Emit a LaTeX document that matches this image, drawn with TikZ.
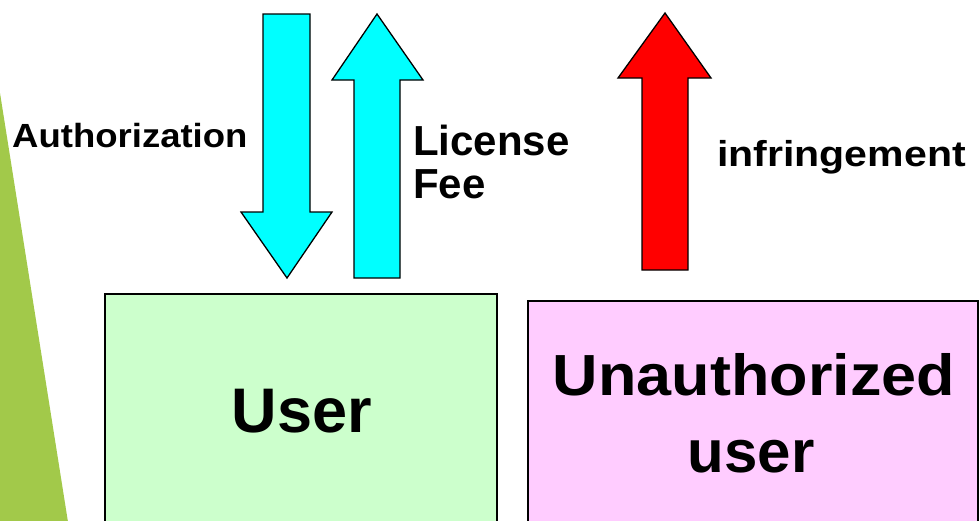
\documentclass[tikz,border=0pt]{standalone}
\usepackage{fontspec}
\setmainfont{Liberation Sans}
\definecolor{leafgreen}{HTML}{A2C94A}
\definecolor{boxgreen}{HTML}{CCFFCC}
\definecolor{boxpink}{HTML}{FFCCFF}
\definecolor{arrowcyan}{HTML}{00FFFF}
\definecolor{arrowred}{HTML}{FF0000}
\begin{document}
\begin{tikzpicture}[x=1pt,y=-1pt,
  blockarrow/.style={draw=black,line width=1.3pt,line join=miter},
  userbox/.style={draw=black,line width=1.6pt},
  lbl/.style={inner sep=0pt,font=\bfseries}]
\useasboundingbox (0,0) rectangle (980,520);
% green wedge at left
\fill[leafgreen] (0,93) -- (68,522) -- (0,522) -- cycle;
% boxes
\filldraw[userbox,fill=boxgreen] (105,540) -- (105,294) -- (497,294) -- (497,540);
\filldraw[userbox,fill=boxpink] (528,540) -- (528,301) -- (978,301) -- (978,540);
% down arrow (Authorization)
\filldraw[blockarrow,fill=arrowcyan] (263,14) -- (310,14) -- (310,212) -- (332,212) -- (287,278) -- (241,212) -- (263,212) -- cycle;
% up arrow (License Fee)
\filldraw[blockarrow,fill=arrowcyan] (377,14) -- (423,80) -- (400,80) -- (400,278) -- (354,278) -- (354,80) -- (332,80) -- cycle;
% red up arrow (infringement)
\filldraw[blockarrow,fill=arrowred] (665,13) -- (711,78) -- (688,78) -- (688,270) -- (642,270) -- (642,78) -- (618,78) -- cycle;
% labels
\node[lbl,anchor=base west] (auth) at (12,147) {\scalebox{1.09}[1]{\fontsize{33.5}{40}\selectfont Authorization}};
\node[lbl,anchor=base west] (lic) at (413,155) {\fontsize{42}{43}\selectfont License};
\node[lbl,anchor=base west] (fee) at (413,198) {\fontsize{42}{43}\selectfont Fee};
\node[lbl,anchor=base west] (infr) at (717,166) {\scalebox{1.14}[1]{\fontsize{36}{40}\selectfont infringement}};
\node[lbl,anchor=base] (user) at (302,432) {\fontsize{63}{70}\selectfont User};
\node[lbl,anchor=base] (unauth) at (754,395) {\scalebox{1.085}[1]{\fontsize{58}{70}\selectfont Unauthorized}};
\node[lbl,anchor=base] (unuser) at (751,472) {\fontsize{60}{70}\selectfont user};
\end{tikzpicture}
\end{document}
